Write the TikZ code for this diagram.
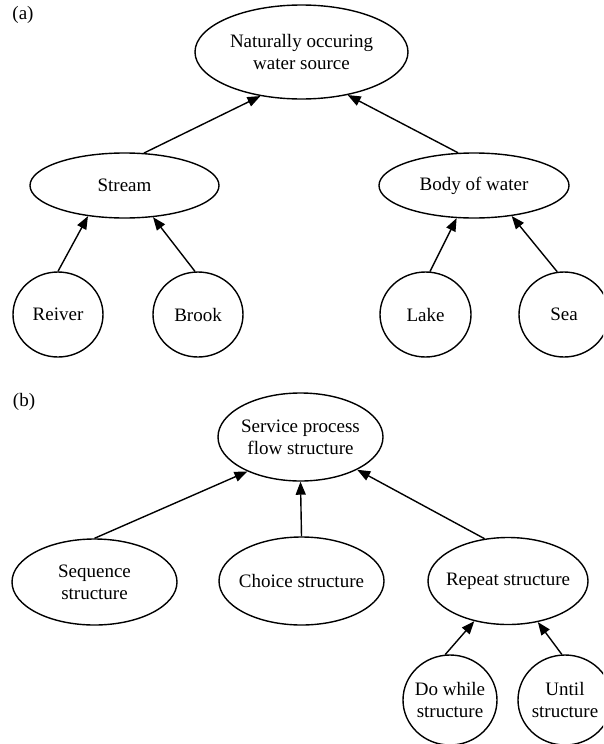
\documentclass[tikz,border=0pt]{standalone}
\usepackage{fontspec}
\setmainfont{Liberation Serif}
\usepackage{tikz}
\usetikzlibrary{shapes.geometric, arrows.meta}

\begin{document}
\begin{tikzpicture}[x=1pt, y=-1pt,
        every node/.style={font=\fontsize{19}{22}\selectfont},
        ell/.style 2 args={draw, ellipse, line width=1.4pt, inner sep=-10pt,
            align=center, minimum width=#1, minimum height=#2},
        arr/.style={line width=1.4pt, -{Triangle[length=13pt,width=10pt]}}]
        \useasboundingbox (0,0) rectangle (603,744);
        \clip (0,0) rectangle (603,744);
        % (a)
        \node (lbla) at (23,15) {(a)};
        \node[ell={213pt}{94pt}] (water) at (301.5,52) {Naturally occuring\\water source};
        \node[ell={189pt}{65pt}] (stream) at (124.5,185.5) {Stream};
        \node[ell={190pt}{65pt}] (body) at (474,185.5) {Body of water};
        \node[ell={90pt}{85pt}] (reiver) at (58,314.5) {Reiver};
        \node[ell={90pt}{85pt}] (brook) at (198,314.5) {Brook};
        \node[ell={91pt}{85pt}] (lake) at (425.5,314.5) {Lake};
        \node[ell={90pt}{85pt}] (sea) at (564,314.5) {Sea};
        \foreach \a/\b in {stream.59/water.-133, body.116/water.-43,
            reiver.north/stream.-140, brook.94/stream.-48,
            lake.84/body.-118, sea.99/body.-39}
            \draw[arr] (\a) -- (\b);
        % (b)
        \node (lblb) at (24,402) {(b)};
        \node[ell={165pt}{88pt}] (service) at (300.5,437) {Service process\\flow structure};
        \node[ell={165pt}{86pt}] (sequence) at (94.5,582) {Sequence\\structure};
        \node[ell={165pt}{88pt}] (choice) at (301.5,581) {Choice structure};
        \node[ell={160pt}{87pt}] (repeat) at (508,581) {Repeat structure};
        \node[ell={94pt}{90pt}] (dowhile) at (450,700) {Do while\\structure};
        \node[ell={94pt}{90pt}] (until) at (565,700) {Until\\structure};
        \foreach \a/\b in {sequence.north/service.-147, choice.north/service.south,
            repeat.119/service.-30, dowhile.96/repeat.-130, until.94/repeat.-54}
            \draw[arr] (\a) -- (\b);
\end{tikzpicture}
\end{document}
